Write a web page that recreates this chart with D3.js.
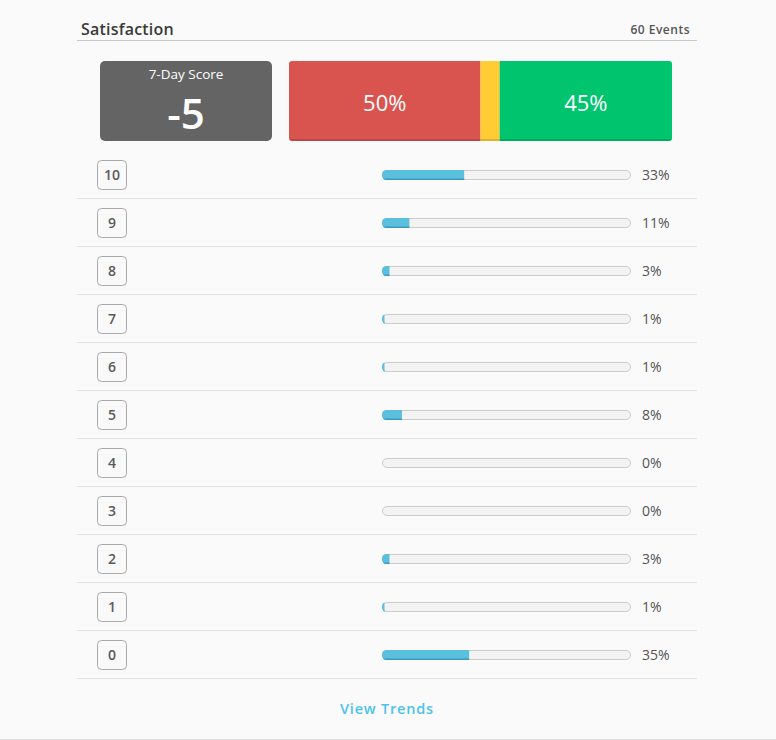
<!DOCTYPE html>
<html>
<head>
<meta charset="utf-8">
<script src="https://cdn.jsdelivr.net/npm/d3@7"></script>
<style>
  html, body { margin: 0; padding: 0; background: #fafafa; }
  svg { display: block; font-family: "Open Sans", "Noto Sans", sans-serif; }
</style>
</head>
<body>
<div id="chart"></div>
<script>
// score rows, top to bottom
var scores = [10, 9, 8, 7, 6, 5, 4, 3, 2, 1, 0];
var percents = [33, 11, 3, 1, 1, 8, 0, 0, 3, 1, 35];

// detractor / passive / promoter split
var segNames = ["Detractors", "Passives", "Promoters"];
var segValues = [50, 5, 45];
var segLabels = ["50%", "", "45%"];
var segColors = ["#d9534f", "#ffcc33", "#00c56e"];

var title = "Satisfaction";
var eventsLabel = "60 Events";
var scoreTitle = "7-Day Score";
var scoreValue = "-5";

var W = 776, H = 740;

var svg = d3.select("#chart").append("svg")
    .attr("width", W)
    .attr("height", H);

// bottom page border
svg.append("line")
    .attr("x1", 0).attr("x2", W)
    .attr("y1", H - 0.5).attr("y2", H - 0.5)
    .attr("stroke", "#e2e2e2");

// header
svg.append("text")
    .attr("x", 81).attr("y", 35)
    .attr("font-size", 16)
    .attr("font-weight", 600)
    .attr("letter-spacing", 0.2)
    .attr("fill", "#3a3a3a")
    .text(title);

svg.append("text")
    .attr("x", 690).attr("y", 34)
    .attr("text-anchor", "end")
    .attr("font-size", 12)
    .attr("font-weight", 600)
    .attr("letter-spacing", 0.5)
    .attr("fill", "#555")
    .text(eventsLabel);

svg.append("line")
    .attr("x1", 77).attr("x2", 697)
    .attr("y1", 40.5).attr("y2", 40.5)
    .attr("stroke", "#c8c8c8");

// score box
svg.append("rect")
    .attr("x", 100).attr("y", 61)
    .attr("width", 172).attr("height", 80)
    .attr("rx", 5)
    .attr("fill", "#646464");

svg.append("text")
    .attr("x", 186).attr("y", 79)
    .attr("text-anchor", "middle")
    .attr("font-size", 13.5)
    .attr("fill", "#fff")
    .text(scoreTitle);

svg.append("text")
    .attr("x", 186).attr("y", 129)
    .attr("text-anchor", "middle")
    .attr("font-size", 42)
    .attr("font-weight", 600)
    .attr("fill", "#fff")
    .text(scoreValue);

// stacked split bar
var sx = d3.scaleLinear()
    .domain([0, d3.sum(segValues)])
    .range([289, 672]);

var cum = 0;
var segs = segValues.map(function(v, i) {
    var s = {name: segNames[i], x0: cum, x1: cum + v, label: segLabels[i], color: segColors[i]};
    cum += v;
    return s;
});

svg.append("clipPath").attr("id", "splitClip")
    .append("rect")
    .attr("x", 289).attr("y", 61)
    .attr("width", 383).attr("height", 80)
    .attr("rx", 3);

var split = svg.append("g").attr("clip-path", "url(#splitClip)");

split.selectAll("rect.seg")
    .data(segs)
    .enter()
    .append("rect")
    .attr("class", "seg")
    .attr("x", function(d) { return sx(d.x0); })
    .attr("y", 61)
    .attr("width", function(d) { return sx(d.x1) - sx(d.x0); })
    .attr("height", 80)
    .attr("fill", function(d) { return d.color; });

// darker bottom edge
split.append("rect")
    .attr("x", 289).attr("y", 139)
    .attr("width", 383).attr("height", 2)
    .attr("fill", "#000").attr("opacity", 0.12);

split.selectAll("text.seglab")
    .data(segs)
    .enter()
    .append("text")
    .attr("class", "seglab")
    .attr("x", function(d) { return (sx(d.x0) + sx(d.x1)) / 2; })
    .attr("y", 111)
    .attr("text-anchor", "middle")
    .attr("font-size", 22)
    .attr("fill", "#fff")
    .text(function(d) { return d.label; });

// rows
var rowTop = 150, rowH = 48;
var y = d3.scaleBand()
    .domain(scores)
    .range([rowTop, rowTop + rowH * scores.length]);

var bx = d3.scaleLinear().domain([0, 100]).range([382, 631]);
var trackH = 9;

var rows = svg.selectAll("g.row")
    .data(scores.map(function(s, i) { return {score: s, pct: percents[i]}; }))
    .enter()
    .append("g")
    .attr("class", "row")
    .attr("transform", function(d) { return "translate(0," + y(d.score) + ")"; });

rows.append("line")
    .attr("x1", 77).attr("x2", 697)
    .attr("y1", rowH + 0.5).attr("y2", rowH + 0.5)
    .attr("stroke", "#e3e3e3");

rows.append("rect")
    .attr("x", 97.5).attr("y", 10.5)
    .attr("width", 29).attr("height", 29)
    .attr("rx", 4)
    .attr("fill", "#f9f9f9")
    .attr("stroke", "#a9a9a9");

rows.append("text")
    .attr("x", 112).attr("y", 30)
    .attr("text-anchor", "middle")
    .attr("font-size", 14)
    .attr("font-weight", 600)
    .attr("fill", "#5a5a5a")
    .text(function(d) { return d.score; });

// bar track
rows.append("rect")
    .attr("x", bx(0) + 0.5).attr("y", 20.5)
    .attr("width", bx(100) - bx(0) - 1).attr("height", trackH)
    .attr("rx", 4.5)
    .attr("fill", "#f3f3f3")
    .attr("stroke", "#cccccc");

// clip fill into the track shape
rows.append("clipPath")
    .attr("id", function(d, i) { return "trk" + i; })
    .append("rect")
    .attr("x", bx(0)).attr("y", 20)
    .attr("width", bx(100) - bx(0)).attr("height", trackH + 1)
    .attr("rx", 4.5);

var fills = rows.append("g")
    .attr("clip-path", function(d, i) { return "url(#trk" + i + ")"; });

fills.append("rect")
    .attr("x", bx(0)).attr("y", 20)
    .attr("width", function(d) { return d.pct > 0 ? Math.max(bx(d.pct) - bx(0), 2) : 0; })
    .attr("height", trackH + 1)
    .attr("fill", "#5bc0de");

fills.append("rect")
    .attr("x", bx(0)).attr("y", 28.5)
    .attr("width", function(d) { return d.pct > 0 ? Math.max(bx(d.pct) - bx(0), 2) : 0; })
    .attr("height", 1.5)
    .attr("fill", "#3d9ab8");

rows.append("text")
    .attr("x", 642).attr("y", 30)
    .attr("font-size", 14)
    .attr("fill", "#555")
    .text(function(d) { return d.pct + "%"; });

// footer link
svg.append("text")
    .attr("x", 387).attr("y", 714)
    .attr("text-anchor", "middle")
    .attr("font-size", 14.5)
    .attr("font-weight", 600)
    .attr("letter-spacing", 0.8)
    .attr("fill", "#4cc3ea")
    .text("View Trends");
</script>
</body>
</html>
